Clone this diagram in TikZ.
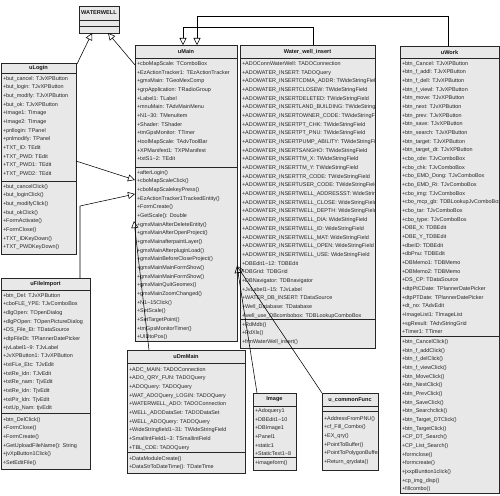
\documentclass[tikz,border=0pt]{standalone}
\usepackage{fontspec}
\setmainfont{Liberation Sans}
\usetikzlibrary{arrows.meta,calc}
\tikzset{
 frame/.style={draw=black!85, fill=black!9, line width=0.7pt, inner sep=0pt, outer sep=0pt},
 titletext/.style={font=\fontsize{5.6}{6}\selectfont\bfseries, inner sep=0pt, text=black!90},
 members/.style={font=\fontsize{5.45}{8.67}\selectfont, inner sep=0pt, anchor=north west, align=left, text=black!85},
 sepline/.style={draw=black!85, line width=0.7pt},
 gen/.style={draw=black, line width=0.55pt, -{Triangle[open,length=7pt,width=7pt]}},
}
\newcommand\umlclass[7]{%
  \node[frame, anchor=north west, minimum width={#4-#2}, minimum height={#5-#3}] (#1) at (#2,#3) {};
  \node[titletext] (#1-title) at ({(#2+#4)/2},{(#3+#6)/2}) {#7};
  \draw[sepline] (#2,#6) -- (#4,#6);
}
\newcommand\umlsep[3]{\draw[sepline] (#1,#3) -- (#2,#3);}
\newcommand\umlmembers[7]{%
  \begin{scope}
    \clip (#2,#4) rectangle (#3,#5);
    \node[members] (#1) at (#2+1.8,#6-4.17) {\strut#7};
  \end{scope}}
\def\tld{\textasciitilde{}}
\begin{document}
\begin{tikzpicture}[x=1pt,y=-1pt]
\useasboundingbox[fill=white] (0,0) rectangle (500,495);

% WATERWELL
\umlclass{waterwell}{79}{6}{119}{33}{20}{WATERWELL}
\umlsep{79}{119}{26}

% uLogin
\umlclass{ulogin}{1}{63}{76}{254}{73}{uLogin}
\umlsep{1}{76}{181}
\umlmembers{ulogin-a}{1}{76}{73}{181}{78}{+but\_cancel: TJvXPButton\\+but\_login: TJvXPButton\\+but\_modify: TJvXPButton\\+but\_ok: TJvXPButton\\+Image1: TImage\\+Image2: TImage\\+pnllogin: TPanel\\+pnlmodify: TPanel\\+TXT\_ID: TEdit\\+TXT\_PWD: TEdit\\+TXT\_PWD1: TEdit\\+TXT\_PWD2: TEdit}
\umlmembers{ulogin-o}{1}{76}{181}{254}{186}{+but\_cancelClick()\\+but\_loginClick()\\+but\_modifyClick()\\+but\_okClick()\\+FormActivate()\\+FormClose()\\+TXT\_IDKeyDown()\\+TXT\_PWDKeyDown()}

% uFileImport
\umlclass{ufile}{1}{278}{90}{469}{290}{uFileImport}
\umlsep{1}{90}{413}
\umlmembers{ufile-a}{1}{90}{290}{413}{295}{+btn\_Del: TJvXPButton\\+cboFLE\_YPE: TJvComboBox\\+dlgOpen: TOpenDialog\\+dlgPOpen: TOpenPictureDialog\\+DS\_File\_Et: TDataSource\\+dtpFileDt: TPlannerDatePicker\\+jvLabel1\tld9: TJvLabel\\+JvXPButton1: TJvXPButton\\+txtFLe\_Etc: TJvEdit\\+txtRe\_Idn: TJvEdit\\+txtRe\_nam: TjvEdit\\+txtRe\_Idn: TjvEdit\\+txtPir\_Idn: TjvEdit\\+txtUp\_Nam: tjvEdit}
\umlmembers{ufile-o}{1}{90}{413}{469}{419}{+btn\_DelClick()\\+FormClose()\\+FormCreate()\\+GetUploadFileName(): String\\+jvXpButton1Click()\\+SetEditFile()}

% uMain
\umlclass{umain}{135}{45}{237}{341}{58}{uMain}
\umlsep{135}{237}{167}
\umlmembers{umain-a}{135}{237}{58}{167}{63.5}{+cboMapScale: TComboBox\\+EzActionTracker1: TEzActionTracker\\+gmxMain: TGeoMexComp\\+grpApplication: TRadioGroup\\+Label1: TLabel\\+mnuMain: TAdvMainMenu\\+N1\tld30: TMenuItem\\+Shader: TShader\\+tmGpsMonitor: TTimer\\+toolMapScale: TAdvToolBar\\+XPManifest1: TXPManifest\\+txtS1\tld2: TEdit}
\umlmembers{umain-o}{135}{237}{167}{341}{172}{+afterLogin()\\+cboMapScaleClick()\\+cboMapScalekeyPress()\\+EzActionTracker1TrackedEntity()\\+FormCreate()\\+GetScale(): Double\\+gmxMainAfterDeleteEntity()\\+gmxMainAfterOpenProject()\\+gmxMainafterpaintLayer()\\+gmxMainAfterpluginLoad()\\+gmxMainBeforeCloseProject()\\+gmxMainMainFormShow()\\+gmxMainMainFormShow()\\+gmxMainQuitGeomex()\\+gmxMainZoomChanged()\\+N1\tld15Click()\\+SetScale()\\+SetTargetPoint()\\+tmGpsMonitorTimer()\\+UIDtoPos()}

% Water_well_insert
\umlclass{wwi}{240}{45}{375}{348}{58}{Water\_well\_insert}
\umlsep{240}{375}{319}
\umlmembers{wwi-a}{240}{375}{58}{319}{63.5}{+ADOConnWaterWell: TADOConnection\\+ADOWATER\_INSERT: TADOQuery\\+ADOWATER\_INSERTCDMA\_ADDR: TWideStringField\\+ADOWATER\_INSERTCLOSEW: TWideStringField\\+ADOWATER\_INSERTDELETED: TWideStringField\\+ADOWATER\_INSERTLAND\_BUILDING: TWideStringField\\+ADOWATER\_INSERTOWNER\_CODE: TWideStringField\\+ADOWATER\_INSERTPT\_CHK: TWideStringField\\+ADOWATER\_INSERTPT\_PNU: TWideStringField\\+ADOWATER\_INSERTPUMP\_ABILITY: TWideStringField\\+ADOWATER\_INSERTSANGHO: TWideStringField\\+ADOWATER\_INSERTTM\_X: TWideStringField\\+ADOWATER\_INSERTTM\_Y: TWideStringField\\+ADOWATER\_INSERTTR\_CODE: TWideStringField\\+ADOWATER\_INSERTUSER\_CODE: TWideStringField\\+ADOWATER\_INSERTWELL\_ADDRESSST: WideStringField\\+ADOWATER\_INSERTWELL\_CLOSE: WideStringField\\+ADOWATER\_INSERTWELL\_DEPTH: WideStringField\\+ADOWATER\_INSERTWELL\_DIA: WideStringField\\+ADOWATER\_INSERTWELL\_ID: WideStringField\\+ADOWATER\_INSERTWELL\_MAT: WideStringField\\+ADOWATER\_INSERTWELL\_OPEN: WideStringField\\+ADOWATER\_INSERTWELL\_USE: WideStringField\\+DBEdit1\tld12: TDBEdit\\+DBGrid: TDBGrid\\+DBNavigator: TDBnavigator\\+JvLabel1\tld15: TJvLabel\\+WATER\_DB\_INSERT: TDataSource\\+Well\_Database: TDatabase\\+well\_use\_DBcombobox: TDBLookupComboBox}
\umlmembers{wwi-o}{240}{375}{319}{348}{324}{+RdMdb()\\+RdXls()\\+frmWaterWell\_insert()}

% uWork
\umlclass{uwork}{400}{46}{499}{493}{58}{uWork}
\umlsep{400}{499}{336}
\umlmembers{uwork-a}{400}{499}{58}{336}{63}{+btn\_Cancel: TJvXPButton\\+btn\_f\_addl: TJvXPButton\\+btn\_f\_dell: TJvXPButton\\+btn\_f\_viewl: TJvXPButton\\+btn\_move: TJvXPButton\\+btn\_next: TJvXPButton\\+btn\_prev: TJvXPButton\\+btn\_save: TJvXPButton\\+btn\_search: TJvXPButton\\+btn\_target: TJvXPButton\\+btn\_target\_dt: TJvXPButton\\+cbo\_cde: TJvComboBox\\+cbo\_chk: TJvComboBox\\+cbo\_EMD\_Dong: TJvComboBox\\+cbo\_EMD\_Ri: TJvComboBox\\+cbo\_img: TJvComboBox\\+cbo\_mcp\_gb: TDBLookupJvComboBox\\+cbo\_tar: TJvComboBox\\+cbo\_type: TJvComboBox\\+DBE\_X: TDBEdit\\+DBE\_Y\_TDBEdit\\+dbeID: TDBEdit\\+dbPnu: TDBEdit\\+DBMemo1: TDBMemo\\+DBMemo2: TDBMemo\\+DS\_CP: TDataSource\\+dtpPtCDate: TPlannerDatePicker\\+dtpPTDate: TPlannerDatePicker\\+dt\_no: TAdvEdit\\+ImageList1: TImageList\\+sgResult: TAdvStringGrid\\+Timer1: TTimer}
\umlmembers{uwork-o}{400}{499}{336}{493}{341.5}{+btn\_CancelClick()\\+btn\_f\_addClick()\\+btn\_f\_delClick()\\+btn\_f\_viewClick()\\+btn\_MoveClick()\\+btn\_NextClick()\\+btn\_PrevClick()\\+btn\_SaveClick()\\+btn\_Searchclick()\\+btn\_Target\_DTClick()\\+btn\_TargetClick()\\+CP\_DT\_Search()\\+CP\_List\_Search()\\+formclose()\\+formcreate()\\+jxxpBuntton1click()\\+cp\_img\_disp()\\+fillcombo()}

% uDmMain
\umlclass{udm}{127}{350}{245}{473}{363}{uDmMain}
\umlsep{127}{245}{452}
\umlmembers{udm-a}{127}{245}{363}{452}{369}{+ADC\_MAIN: TADOConnection\\+ADO\_QRY\_FUN: TADOQuery\\+ADOQuery: TADOQuery\\+WAT\_ADOQuery\_LOGIN: TADOQuery\\+WATERWELL\_ADO: TADOConnection\\+WELL\_ADODataSet: TADODataSet\\+WELL\_ADOQuery: TADOQuery\\+WideStringfield1\tld31: TWideStringField\\+SmallintField1\tld3: TSmallintField\\+TBL\_CDE: TADOQuery}
\umlmembers{udm-o}{127}{245}{452}{473}{458}{+DataModuleCreate()\\+DataStrToDateTime(): TDateTime}

% Image
\umlclass{image}{253}{393}{296}{470}{406}{Image}
\umlsep{253}{296}{457}
\umlmembers{image-a}{253}{296}{406}{457}{410.5}{+Adoquery1\\+DBEdit1\tld10\\+DBImage1\\+Panel1\\+static1\\+StaticText1\tld8}
\umlmembers{image-o}{253}{296}{457}{470}{462}{+imageform()}

% u_commonFunc
\umlclass{ucf}{322}{393}{378}{470}{406}{u\_commonFunc}
\umlsep{322}{378}{411}
\umlmembers{ucf-o}{322}{378}{411}{470}{418}{+AddressFromPNU()\\+cf\_Fill\_Combo()\\+EX\_qry()\\+PointToBuffer()\\+PointToPolygonBuffer()\\+Return\_qrydata()}

% connectors
\coordinate (p1) at (77,64);
\draw[gen] (p1) -- ($(waterwell.south west)+(13,0)$);
\coordinate (p2) at (135,65);
\draw[gen] (p2) -- ($(waterwell.south west)+(29,0)$);
\draw[gen] ($(wwi.north west)+(73,0)$) -- ++(0,-18) -| ($(umain.north west)+(48,0)$);
\draw[gen] ($(uwork.north west)+(48,0)$) -- ++(0,-30) -| ($(umain.north west)+(62,0)$);
\coordinate (p5) at (76,161);
\draw[gen] (p5) -- (135,180);
\coordinate (p6) at (80,278);
\draw[gen] (p6) -- (80,206) -- (135,194);
\draw[gen] ($(udm.north west)+(22,0)$) -- (134,221);
\coordinate (p8) at (237,266);
\draw[gen] (ucf.north west) -- (p8);
\draw[gen] ($(image.north west)+(4,0)$) -- (p8);
\end{tikzpicture}
\end{document}
